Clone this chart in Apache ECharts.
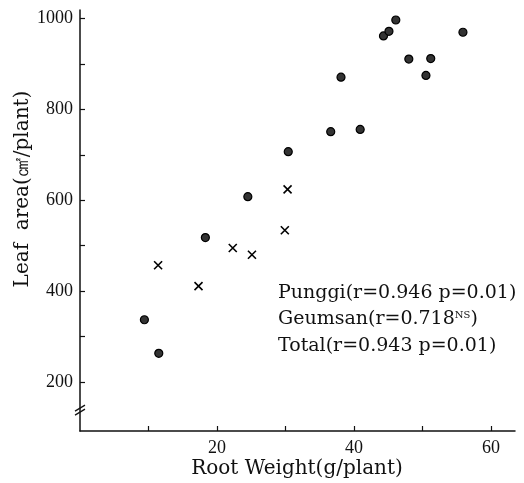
<!DOCTYPE html>
<html><head><meta charset="utf-8">
<script src="https://cdn.jsdelivr.net/npm/echarts@6/dist/echarts.min.js"></script>
<style>html,body{margin:0;padding:0;background:#fff}#c{width:524px;height:483px}</style>
</head><body><div id="c"></div>
<script>
// Punggi (circles)
const punggiX = [9.4, 11.5, 18.3, 24.5, 30.4, 36.6, 40.9, 38.1, 44.3, 45.1, 46.1, 48.0, 50.5, 51.2, 55.9];
const punggiY = [337, 263, 518, 608, 707, 751, 756, 871, 962, 972, 997, 911, 875, 912, 970];
// Geumsan (crosses)
const geumsanX = [11.4, 17.3, 22.3, 25.1, 29.9, 30.3];
const geumsanY = [457, 411, 495, 480, 534, 624];
const xTickValues = [10, 20, 30, 40, 50, 60];
const xLabelValues = [20, 40, 60];
const yTickValues = [200, 300, 400, 500, 600, 700, 800, 900, 1000];
const yLabelValues = [200, 400, 600, 800, 1000];
const legendLines = ["Punggi(r=0.946 p=0.01)", "Geumsan(r=0.718", "Total(r=0.943 p=0.01)"];

const TICKFONT = '"Liberation Serif", serif';
const FONT = '"DejaVu Serif", serif';
const chart = echarts.init(document.getElementById('c'));
const zip = (a, b) => a.map((v, i) => [v, b[i]]);
chart.setOption({
  animation: false,
  grid: { left: 80, right: 9, top: 10, bottom: 52, containLabel: false },
  xAxis: {
    type: 'value', min: 0, max: 63.5,
    axisLine: { show: true, lineStyle: { color: '#111', width: 1.5 } },
    axisTick: { show: true, inside: true, length: 5, customValues: xTickValues, lineStyle: { color: '#111', width: 1.2 } },
    axisLabel: { customValues: xLabelValues, color: '#111', fontFamily: TICKFONT, fontSize: 18, margin: 8, formatter: v => String(v) },
    splitLine: { show: false }
  },
  yAxis: {
    type: 'value', min: 92, max: 1019,
    axisLine: { show: true, lineStyle: { color: '#111', width: 1.5 } },
    axisTick: { show: true, inside: true, length: 5, customValues: yTickValues, lineStyle: { color: '#111', width: 1.2 } },
    axisLabel: { customValues: yLabelValues, color: '#111', fontFamily: TICKFONT, fontSize: 18, margin: 7, formatter: v => String(v) },
    splitLine: { show: false }
  },
  series: [
    {
      type: 'scatter', data: zip(punggiX, punggiY), symbol: 'circle', symbolSize: 8,
      itemStyle: { color: '#333', borderColor: '#000', borderWidth: 1.2, opacity: 1 }
    },
    {
      type: 'scatter', data: zip(geumsanX, geumsanY), symbol: 'path://M0,0L10,10M10,0L0,10', symbolSize: 8,
      itemStyle: { color: 'none', borderColor: '#000', borderWidth: 1.6, opacity: 1 }
    }
  ]
});

const ax = chart.convertToPixel({ xAxisIndex: 0 }, 0);
const by = chart.convertToPixel({ yAxisIndex: 0 }, 138);
chart.setOption({
  graphic: [
    { type: 'rect', shape: { x: ax - 2, y: by - 2, width: 4, height: 4 }, style: { fill: '#fff' } },
    { type: 'line', shape: { x1: ax - 5, y1: by + 1, x2: ax + 5, y2: by - 5 }, style: { stroke: '#111', lineWidth: 1.3 } },
    { type: 'line', shape: { x1: ax - 5, y1: by + 5, x2: ax + 5, y2: by - 1 }, style: { stroke: '#111', lineWidth: 1.3 } },
    { type: 'text', x: 23, y: 189, rotation: Math.PI / 2, style: { text: 'Leaf  area(㎠/plant)', font: '20px ' + FONT, fill: '#111', align: 'center', verticalAlign: 'middle' } },
    { type: 'text', x: 297, y: 469, style: { text: 'Root Weight(g/plant)', font: '20px ' + FONT, fill: '#111', align: 'center', verticalAlign: 'middle' } },
    { type: 'text', x: 278, y: 293, style: { text: legendLines[0], font: '19px ' + FONT, fill: '#111', verticalAlign: 'middle' } },
    { type: 'text', x: 278, y: 319.5, style: { text: '{a|' + legendLines[1] + '}{s|NS}{a|)}', rich: { a: { font: '19px ' + FONT, fill: '#111' }, s: { font: '10px ' + FONT, fill: '#111', verticalAlign: 'top', padding: [0, 0, 9, 0] } }, verticalAlign: 'middle' } },
    { type: 'text', x: 278, y: 346, style: { text: legendLines[2], font: '19px ' + FONT, fill: '#111', verticalAlign: 'middle' } }
  ]
});
</script></body></html>
